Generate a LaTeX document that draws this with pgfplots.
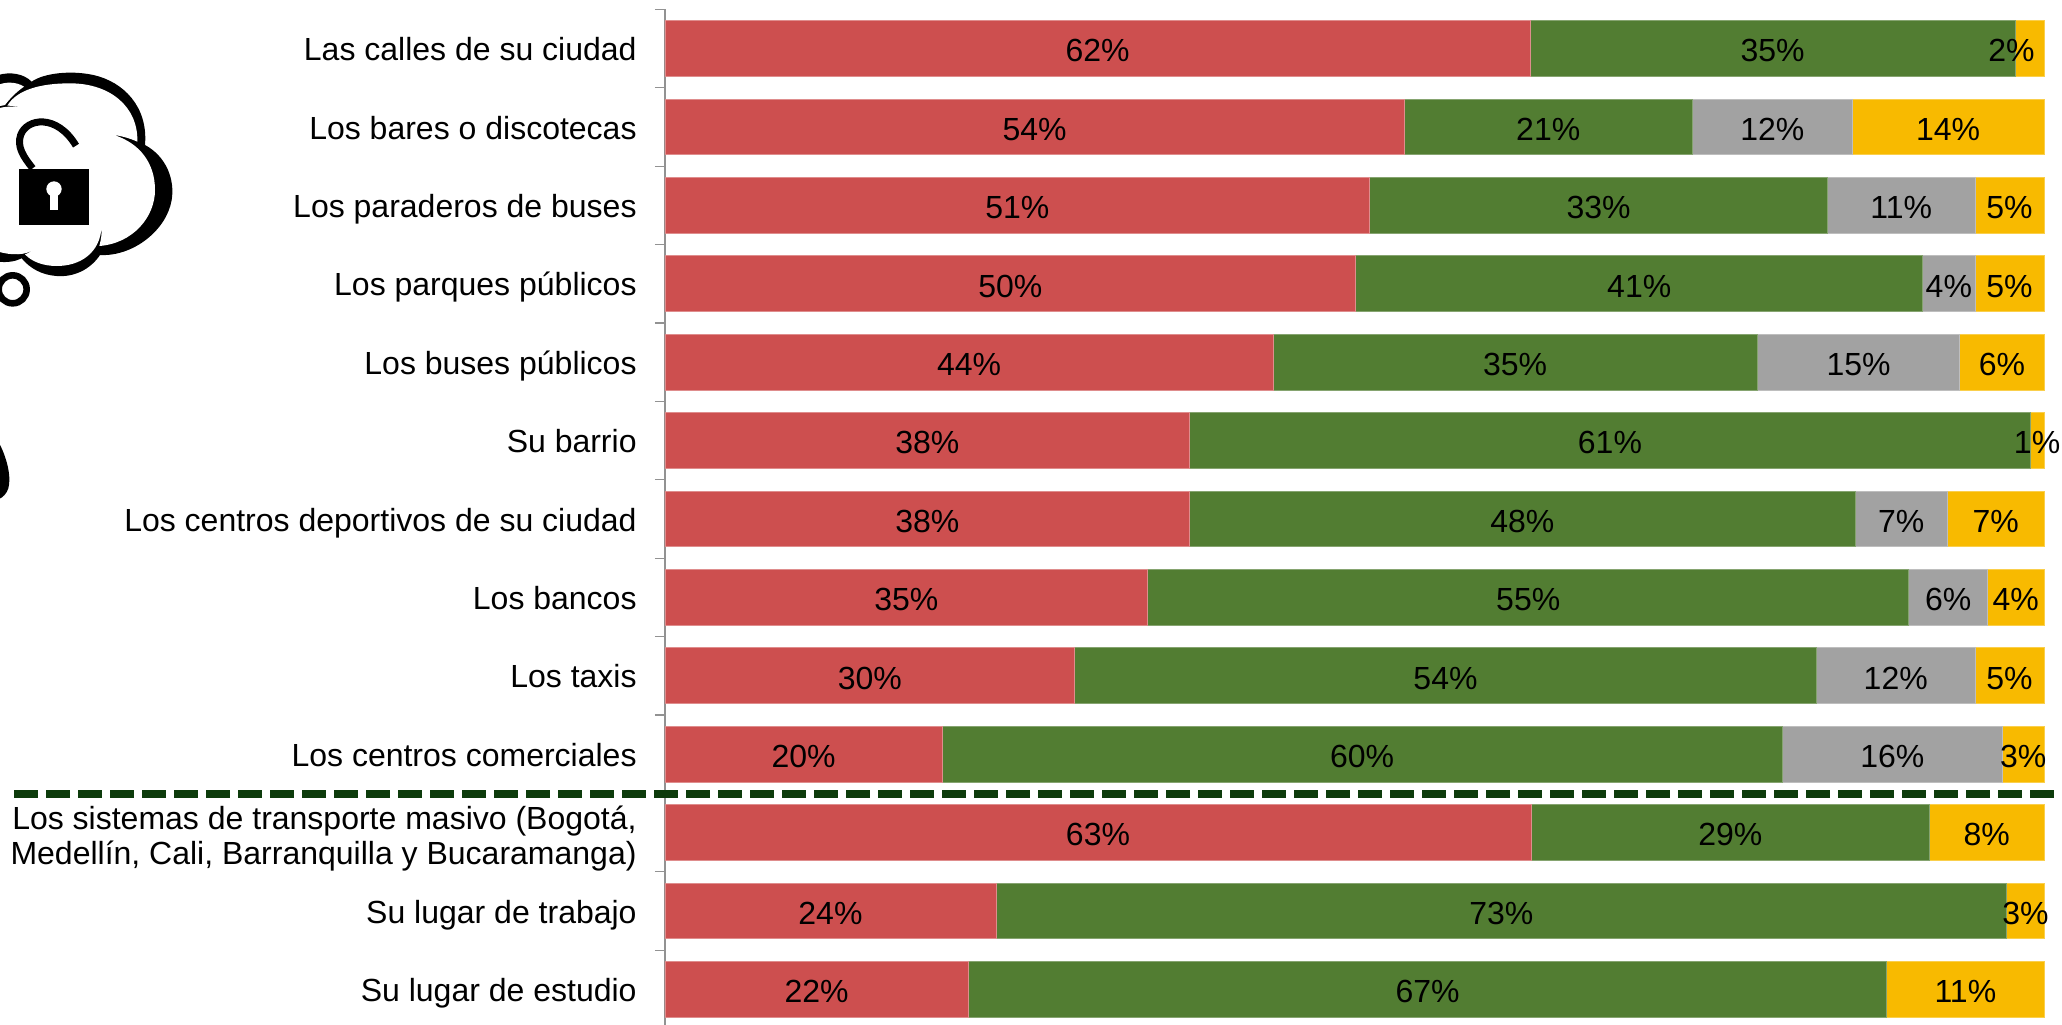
\documentclass[border=0pt]{standalone}
\usepackage{pgfplots}
\pgfplotsset{compat=1.18}
\usepackage{fontspec}
\setmainfont{Liberation Sans}
\definecolor{cred}{HTML}{CD4F4F}
\definecolor{cgreen}{HTML}{527D32}
\definecolor{cgray}{HTML}{A2A2A2}
\definecolor{cyellow}{HTML}{F8BA00}
\definecolor{cdash}{HTML}{0D3B0B}
\definecolor{caxis}{HTML}{929292}
\begin{document}
\begin{tikzpicture}[x=0.5pt,y=0.5pt]
\path[use as bounding box] (0,0) rectangle (2062,1024);
\begin{scope}
\clip (0,0) rectangle (2062,1024);
\begin{axis}[
  at={(665pt*0.5,{(1024-1028.5)*0.5pt})}, anchor=south west,
  scale only axis, width=689.5pt, height=509.6pt,
  xbar stacked, bar width=27.9pt,
  xmin=0, xmax=100, ymin=-0.5, ymax=12.5, y dir=reverse,
  clip=false,
  axis line style={draw=none},
  axis x line=none,
  axis y line*=left,
  y axis line style={draw=caxis,line width=0.8pt,-},
  ytick={0,...,12},
  yticklabels={Las calles de su ciudad,Los bares o discotecas,Los paraderos de buses,Los parques públicos,Los buses públicos,Su barrio,Los centros deportivos de su ciudad,Los bancos,Los taxis,Los centros comerciales,{Los sistemas de transporte masivo (Bogotá,\\[-0.4pt]Medellín, Cali, Barranquilla y Bucaramanga)},Su lugar de trabajo,Su lugar de estudio},
  typeset ticklabels with strut,
  minor ytick={-0.5,0.5,...,12.5},
  tick style={draw=caxis,line width=0.6pt},
  major tick length=0pt, minor tick length=5pt, tick align=outside,
  yticklabel style={font=\fontsize{16}{18}\selectfont,align=right,inner sep=0pt,xshift=-14pt,yshift=-2.5pt,text=black},
  nodes near coords,
  point meta=explicit symbolic,
  every node near coord/.append style={font=\fontsize{16}{18}\selectfont,text=black,anchor=center,inner sep=0pt,yshift=-1.2pt},
]
\addplot[fill=cred,draw=cred!65!white,line width=0.4pt] coordinates {
(62.75,0) [62\%] (53.6,1) [54\%] (51.1,2) [51\%] (50.1,3) [50\%] (44.1,4) [44\%] (38.05,5) [38\%] (38.05,6) [38\%] (35,7) [35\%] (29.7,8) [30\%] (20.1,9) [20\%] (62.8,10) [63\%] (24,11) [24\%] (22,12) [22\%]};
\addplot[fill=cgreen,draw=cgreen!70!white,line width=0.4pt] coordinates {
(35.15,0) [35\%] (20.9,1) [21\%] (33.2,2) [33\%] (41.1,3) [41\%] (35.1,4) [35\%] (60.95,5) [61\%] (48.25,6) [48\%] (55.2,7) [55\%] (53.8,8) [54\%] (60.9,9) [60\%] (28.9,10) [29\%] (73.3,11) [73\%] (66.6,12) [67\%]};
\addplot[fill=cgray,draw=cgray!70!white,line width=0.4pt] coordinates {
(0,0) [] (11.6,1) [12\%] (10.7,2) [11\%] (3.8,3) [4\%] (14.7,4) [15\%] (0,5) [] (6.7,6) [7\%] (5.7,7) [6\%] (11.5,8) [12\%] (16,9) [16\%] (0,10) [] (0,11) [] (0,12) []};
\addplot[fill=cyellow,draw=cyellow!70!white,line width=0.4pt] coordinates {
(2.1,0) [2\%\hspace*{18pt}] (13.9,1) [14\%] (5,2) [5\%] (5,3) [5\%] (6.1,4) [6\%] (1,5) [1\%] (7,6) [7\%] (4.1,7) [4\%] (5,8) [5\%] (3,9) [3\%] (8.3,10) [8\%] (2.7,11) [3\%] (11.4,12) [11\%]};
\end{axis}
\draw[cdash,line width=4pt,dash pattern=on 12pt off 4pt] (14,230) -- (2062,230);
% cloud icon, drawn in zoomed pixel units
\begin{scope}[x=0.16667pt,y=-0.16667pt,yshift=492pt]
\fill[black] (-5,105) .. controls (30,95) and (70,100) .. (95,125)
 .. controls (130,100) and (210,90) .. (280,105)
 .. controls (370,125) and (445,200) .. (435,315)
 .. controls (500,350) and (525,420) .. (515,480)
 .. controls (500,570) and (400,650) .. (300,645)
 .. controls (270,690) and (220,712) .. (170,708)
 .. controls (125,705) and (90,685) .. (65,655)
 .. controls (45,665) and (20,668) .. (-5,665) -- cycle;
\fill[white] (-5,205) .. controls (20,198) and (50,198) .. (78,205)
 .. controls (60,200) and (40,197) .. (22,197)
 .. controls (50,150) and (120,130) .. (210,130)
 .. controls (330,130) and (415,200) .. (412,305)
 .. controls (390,295) and (365,288) .. (342,285)
 .. controls (420,310) and (465,370) .. (465,450)
 .. controls (465,530) and (400,610) .. (298,618)
 .. controls (303,600) and (306,580) .. (305,560)
 .. controls (300,640) and (240,678) .. (170,678)
 .. controls (130,678) and (95,665) .. (75,643)
 .. controls (90,638) and (100,630) .. (110,622)
 .. controls (80,650) and (30,645) .. (-5,635) -- cycle;
\fill[white] (-5,135) .. controls (15,125) and (50,125) .. (72,140)
 .. controls (50,155) and (30,175) .. (15,195) .. controls (8,197) and (0,198) .. (-5,198) -- cycle;
\draw[black,line width=3.3pt] (38,748) circle (42);
\fill[black] (58,386) rectangle (268,555);
\fill[white] (162,447) circle (23);
\fill[white] (151,450) rectangle (175,510);
\draw[black,line width=3.5pt] (98,385) .. controls (70,350) and (50,320) .. (62,285) .. controls (80,235) and (170,220) .. (228,317);
\fill[black] (-5,1205) .. controls (20,1250) and (35,1310) .. (25,1345) .. controls (20,1360) and (10,1372) .. (-5,1378) -- cycle;
\end{scope}
\end{scope}
\end{tikzpicture}
\end{document}
